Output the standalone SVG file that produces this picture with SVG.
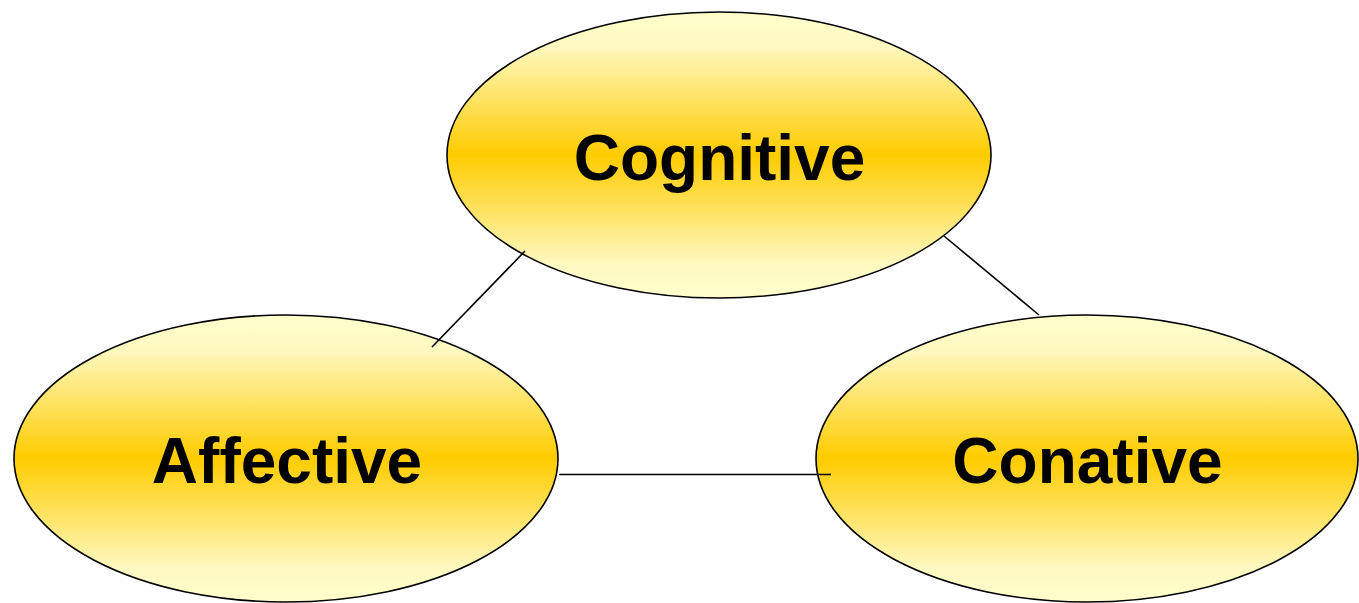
<svg xmlns="http://www.w3.org/2000/svg" width="1359" height="603" viewBox="0 0 1359 603">
  <defs>
    <!-- vertical gold fade: pale at top and bottom, saturated at the middle -->
    <linearGradient id="gold" x1="0" y1="0" x2="0" y2="1">
      <stop offset="0" stop-color="#FFFFCC"/>
      <stop offset="0.12" stop-color="#FFF8C0"/>
      <stop offset="0.5" stop-color="#FFCC00"/>
      <stop offset="0.88" stop-color="#FFF8C0"/>
      <stop offset="1" stop-color="#FFFFCC"/>
    </linearGradient>
  </defs>
  <style>
    .node ellipse { fill: url(#gold); stroke: #000; stroke-width: 1.6; }
    .node text { font-family: "Liberation Sans", Arial, sans-serif; font-weight: bold; font-size: 64px; fill: #000; text-anchor: middle; }
    .links line { stroke: #000; stroke-width: 1.6; }
  </style>
  <rect width="1359" height="603" fill="#fff"/>

  <g id="cognitive" class="node">
    <ellipse cx="719" cy="155" rx="272" ry="143"/>
    <text x="719.5" y="180">Cognitive</text>
  </g>
  <g id="affective" class="node">
    <ellipse cx="286" cy="458.5" rx="272" ry="143.5"/>
    <text x="287" y="483">Affective</text>
  </g>
  <g id="conative" class="node">
    <ellipse cx="1087" cy="458.5" rx="271" ry="143.5"/>
    <text x="1087.5" y="483">Conative</text>
  </g>

  <g id="connectors" class="links">
    <line x1="525" y1="251" x2="432" y2="347"/>
    <line x1="944" y1="236" x2="1039" y2="315"/>
    <line x1="559" y1="474.5" x2="831" y2="474.5"/>
  </g>
</svg>
